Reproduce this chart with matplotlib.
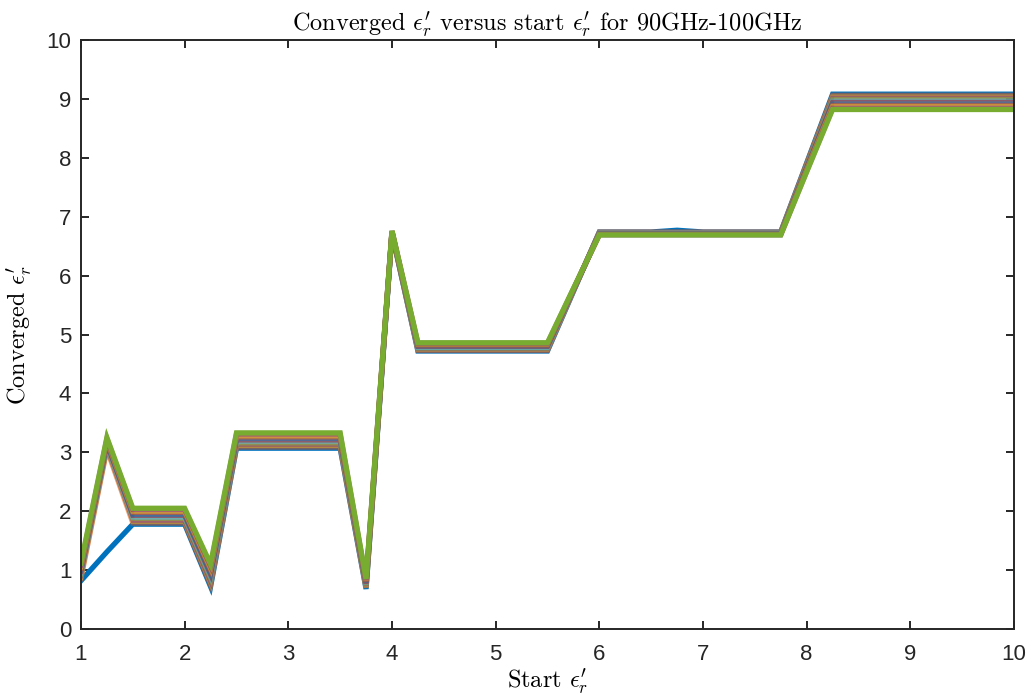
import matplotlib
matplotlib.use('Agg')
import matplotlib.pyplot as plt

plt.rcParams['mathtext.fontset'] = 'cm'
plt.rcParams['font.family'] = ['Liberation Sans', 'DejaVu Sans']

# start epsilon values (x axis)
start_eps = [1.0, 1.25, 1.5, 1.75, 2.0, 2.25, 2.5, 2.75, 3.0, 3.25, 3.5, 3.75,
             4.0, 4.25, 4.5, 4.75, 5.0, 5.25, 5.5, 5.75, 6.0, 6.25, 6.5, 6.75,
             7.0, 7.25, 7.5, 7.75, 8.0, 8.25, 8.5, 8.75, 9.0, 9.25, 9.5, 9.75, 10.0]

# converged epsilon, one row per frequency between 90 GHz and 100 GHz
converged = [
    [0.82, 1.31, 1.78, 1.78, 1.78, 0.72, 3.07, 3.07, 3.07, 3.07, 3.07, 0.68, 6.72,
     4.72, 4.72, 4.72, 4.72, 4.72, 4.72, 5.73, 6.74, 6.74, 6.74, 6.77, 6.74, 6.74, 6.74, 6.74,
     7.91, 9.08, 9.08, 9.08, 9.08, 9.08, 9.08, 9.08, 9.08],
    [0.86, 3.05, 1.80, 1.80, 1.80, 0.75, 3.09, 3.09, 3.09, 3.09, 3.09, 0.70, 6.72,
     4.73, 4.73, 4.73, 4.73, 4.73, 4.73, 5.74, 6.74, 6.74, 6.74, 6.74, 6.74, 6.74, 6.74, 6.74,
     7.90, 9.06, 9.06, 9.06, 9.06, 9.06, 9.06, 9.06, 9.06],
    [0.88, 3.07, 1.83, 1.83, 1.83, 0.79, 3.12, 3.12, 3.12, 3.12, 3.12, 0.71, 6.73,
     4.75, 4.75, 4.75, 4.75, 4.75, 4.75, 5.74, 6.73, 6.73, 6.73, 6.73, 6.73, 6.73, 6.73, 6.73,
     7.88, 9.03, 9.03, 9.03, 9.03, 9.03, 9.03, 9.03, 9.03],
    [0.91, 3.09, 1.85, 1.85, 1.85, 0.82, 3.14, 3.14, 3.14, 3.14, 3.14, 0.73, 6.73,
     4.76, 4.76, 4.76, 4.76, 4.76, 4.76, 5.75, 6.73, 6.73, 6.73, 6.73, 6.73, 6.73, 6.73, 6.73,
     7.87, 9.01, 9.01, 9.01, 9.01, 9.01, 9.01, 9.01, 9.01],
    [0.93, 3.11, 1.88, 1.88, 1.88, 0.86, 3.16, 3.16, 3.16, 3.16, 3.16, 0.74, 6.73,
     4.77, 4.77, 4.77, 4.77, 4.77, 4.77, 5.75, 6.72, 6.72, 6.72, 6.72, 6.72, 6.72, 6.72, 6.72,
     7.86, 8.99, 8.99, 8.99, 8.99, 8.99, 8.99, 8.99, 8.99],
    [0.96, 3.13, 1.90, 1.90, 1.90, 0.89, 3.19, 3.19, 3.19, 3.19, 3.19, 0.76, 6.74,
     4.78, 4.78, 4.78, 4.78, 4.78, 4.78, 5.75, 6.72, 6.72, 6.72, 6.72, 6.72, 6.72, 6.72, 6.72,
     7.84, 8.96, 8.96, 8.96, 8.96, 8.96, 8.96, 8.96, 8.96],
    [0.98, 3.15, 1.93, 1.93, 1.93, 0.93, 3.21, 3.21, 3.21, 3.21, 3.21, 0.77, 6.74,
     4.80, 4.80, 4.80, 4.80, 4.80, 4.80, 5.76, 6.71, 6.71, 6.71, 6.71, 6.71, 6.71, 6.71, 6.71,
     7.83, 8.94, 8.94, 8.94, 8.94, 8.94, 8.94, 8.94, 8.94],
    [1.01, 3.17, 1.95, 1.95, 1.95, 0.96, 3.24, 3.24, 3.24, 3.24, 3.24, 0.79, 6.74,
     4.81, 4.81, 4.81, 4.81, 4.81, 4.81, 5.76, 6.71, 6.71, 6.71, 6.71, 6.71, 6.71, 6.71, 6.71,
     7.81, 8.91, 8.91, 8.91, 8.91, 8.91, 8.91, 8.91, 8.91],
    [1.03, 3.19, 1.98, 1.98, 1.98, 1.00, 3.26, 3.26, 3.26, 3.26, 3.26, 0.80, 6.75,
     4.82, 4.82, 4.82, 4.82, 4.82, 4.82, 5.76, 6.70, 6.70, 6.70, 6.70, 6.70, 6.70, 6.70, 6.70,
     7.80, 8.89, 8.89, 8.89, 8.89, 8.89, 8.89, 8.89, 8.89],
    [1.06, 3.21, 2.00, 2.00, 2.00, 1.03, 3.28, 3.28, 3.28, 3.28, 3.28, 0.82, 6.75,
     4.84, 4.84, 4.84, 4.84, 4.84, 4.84, 5.77, 6.70, 6.70, 6.70, 6.70, 6.70, 6.70, 6.70, 6.70,
     7.79, 8.87, 8.87, 8.87, 8.87, 8.87, 8.87, 8.87, 8.87],
    [1.09, 3.23, 2.03, 2.03, 2.03, 1.07, 3.31, 3.31, 3.31, 3.31, 3.31, 0.83, 6.76,
     4.85, 4.85, 4.85, 4.85, 4.85, 4.85, 5.77, 6.69, 6.69, 6.69, 6.69, 6.69, 6.69, 6.69, 6.69,
     7.77, 8.84, 8.84, 8.84, 8.84, 8.84, 8.84, 8.84, 8.84],
    [1.12, 3.25, 2.05, 2.05, 2.05, 1.10, 3.33, 3.33, 3.33, 3.33, 3.33, 0.85, 6.76,
     4.86, 4.86, 4.86, 4.86, 4.86, 4.86, 5.78, 6.69, 6.69, 6.69, 6.69, 6.69, 6.69, 6.69, 6.69,
     7.76, 8.82, 8.82, 8.82, 8.82, 8.82, 8.82, 8.82, 8.82],
]

# MATLAB default colour order
line_colors = ['#0072BD', '#D95319', '#EDB120', '#7E2F8E', '#77AC30', '#4DBEEE', '#A2142F']

fig = plt.figure(figsize=(10.29, 6.99), dpi=100)
ax = fig.add_axes([0.0787, 0.1001, 0.9067, 0.8427])

n_lines = len(converged)
for i, row in enumerate(converged):
    # the inner lines sit on top of each other and blend into a brownish band
    a = 1.0 if i in (0, n_lines - 1) else 0.55
    ax.plot(start_eps, row, color=line_colors[i % len(line_colors)], linewidth=3.8,
            alpha=a, solid_joinstyle='miter')

ax.set_xlim(1, 10)
ax.set_ylim(0, 10)
ax.set_xticks(range(1, 11))
ax.set_yticks(range(0, 11))

axis_col = '#262626'
for sp in ax.spines.values():
    sp.set_color(axis_col)
    sp.set_linewidth(1.4)
ax.tick_params(direction='in', length=6, width=1.4, color=axis_col, labelcolor=axis_col,
               labelsize=16, top=True, right=True)
ax.tick_params(axis='x', pad=11)
ax.tick_params(axis='y', pad=7)

eps = r'$\epsilon^{\prime}_r$'
ax.set_title('Converged ' + eps + ' versus start ' + eps + ' for 90GHz-100GHz',
             fontfamily='cmr10', fontsize=17.5, pad=7)
ax.set_xlabel('Start ' + eps, fontfamily='cmr10', fontsize=17.5, labelpad=1)
ax.set_ylabel('Converged ' + eps, fontfamily='cmr10', fontsize=17.5, labelpad=9)

fig.savefig('out.png', dpi=100)
